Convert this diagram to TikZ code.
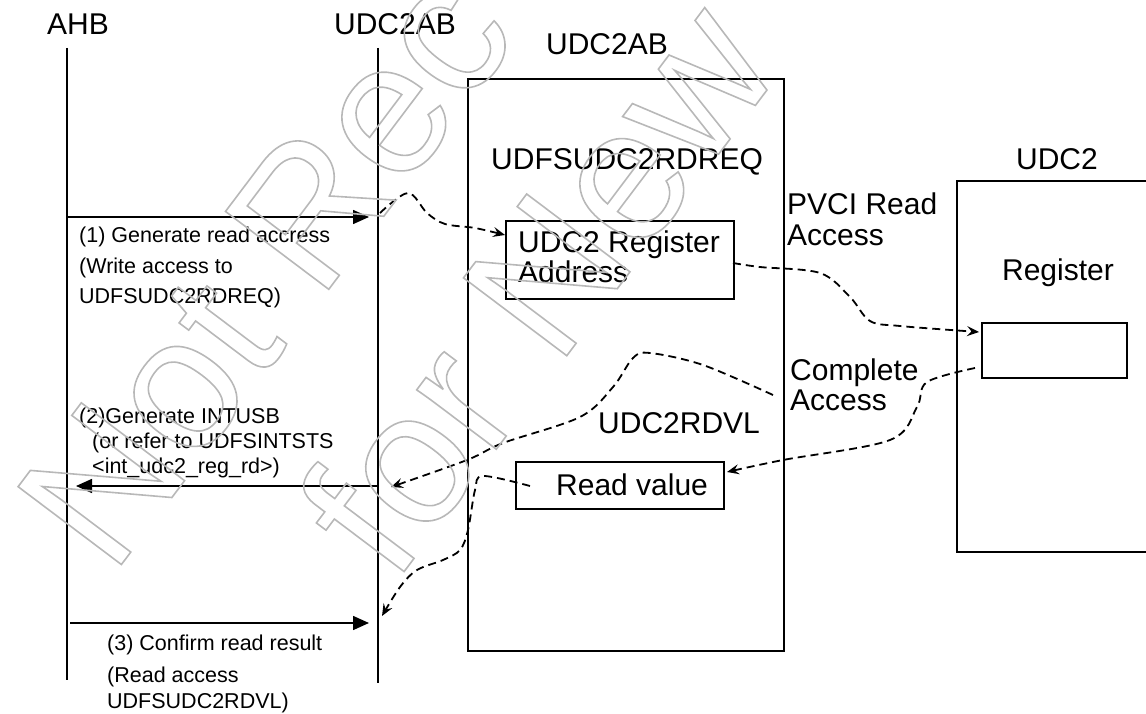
\documentclass[tikz,border=0pt]{standalone}
\usepackage{fontspec}
\setmainfont{Liberation Sans}
\usetikzlibrary{arrows.meta}
\newcommand{\wmark}[1]{\special{pdf:literal direct 1 Tr 1.6 w}#1\special{pdf:literal direct 0 Tr}}
\tikzset{
  lifeline/.style={line width=1.6pt},
  boxed/.style={draw, line width=1.6pt, inner sep=0pt},
  msg/.style={line width=1.6pt, -{Triangle[length=16pt,width=14pt]}},
  flow/.style={line width=1.8pt, dash pattern=on 8pt off 5pt, -{Stealth[length=12pt,width=10pt,inset=4.5pt]}},
  bigtxt/.style={font=\fontsize{30}{30}\selectfont, inner sep=0pt},
  smalltxt/.style={font=\fontsize{21.5}{25}\selectfont, inner sep=0pt},
  wm/.style={font=\fontsize{188}{188}\selectfont, inner sep=0pt, text=black!28, rotate=53, anchor=base west}
}
\begin{document}
\begin{tikzpicture}[x=1pt,y=-1pt]
\useasboundingbox (0,0) rectangle (1146,714);

% lifelines
\coordinate (ahbT) at (67,48);
\coordinate (ahbB) at (67,680);
\coordinate (abT) at (378,48);
\coordinate (abB) at (378,683);
\draw[lifeline] (ahbT) -- (ahbB);
\draw[lifeline] (abT) -- (abB);
\node[bigtxt, anchor=base] (ahbL) at (78,35) {AHB};
\node[bigtxt, anchor=base] (abL) at (395,35) {UDC2AB};

% UDC2AB block
\node[boxed, anchor=north west, minimum width=316pt, minimum height=572pt] (abBox) at (467,78) {};
\node[bigtxt, anchor=base] (abBoxL) at (607,55) {UDC2AB};
\node[bigtxt, anchor=base west] (reqL) at (491,170) {UDFSUDC2RDREQ};
\node[boxed, anchor=north west, minimum width=228pt, minimum height=78pt] (regaddr) at (505,220) {};
\node[bigtxt, anchor=base west] (ra1) at (518,252) {UDC2 Register};
\node[bigtxt, anchor=base west] (ra2) at (518,282) {Address};
\node[bigtxt, anchor=base west] (rdvlL) at (598,433) {UDC2RDVL};
\node[boxed, anchor=north west, minimum width=208pt, minimum height=47pt] (rval) at (515,461) {};
\node[bigtxt, anchor=base west] (rvalT) at (556,495) {Read value};

% middle labels
\node[bigtxt, anchor=base west] (pv1) at (787,215) {PVCI Read};
\node[bigtxt, anchor=base west] (pv2) at (787,245) {Access};
\node[bigtxt, anchor=base west] (ca1) at (790,380) {Complete};
\node[bigtxt, anchor=base west] (ca2) at (790,410) {Access};

% UDC2 block
\node[boxed, anchor=north west, minimum width=220pt, minimum height=371pt] (udc2) at (956,180) {};
\node[bigtxt, anchor=base] (udc2L) at (1057,170) {UDC2};
\node[bigtxt, anchor=base] (regL) at (1058,280) {Register};
\node[boxed, anchor=north west, minimum width=145pt, minimum height=55pt] (reg) at (981,322) {};

% messages
\coordinate (m1s) at (67,217);
\coordinate (m1e) at (369,217);
\draw[msg] (m1s) -- (m1e);
\node[smalltxt, anchor=base west] (t1a) at (79,243) {(1) Generate read accress};
\node[smalltxt, anchor=base west] (t1b) at (79,273) {(Write access to};
\node[smalltxt, anchor=base west] (t1c) at (79,303) {UDFSUDC2RDREQ)};

\coordinate (m2s) at (378,486);
\coordinate (m2e) at (76,486);
\draw[msg] (m2s) -- (m2e);
\node[smalltxt, anchor=base west] (t2a) at (79,423) {(2)Generate INTUSB};
\node[smalltxt, anchor=base west] (t2b) at (92,448) {(or refer to UDFSINTSTS};
\node[smalltxt, anchor=base west] (t2c) at (92,473) {<int\_udc2\_reg\_rd>)};

\coordinate (m3s) at (70,623);
\coordinate (m3e) at (369,623);
\draw[msg] (m3s) -- (m3e);
\node[smalltxt, anchor=base west] (t3a) at (107,650) {(3) Confirm read result};
\node[smalltxt, anchor=base west] (t3b) at (107,682) {(Read access};
\node[smalltxt, anchor=base west] (t3c) at (107,708) {UDFSUDC2RDVL)};

% dashed flows
\coordinate (f1s) at (380,213);
\coordinate (f1e) at (505,235);
\draw[flow] plot[smooth, tension=0.55] coordinates {(f1s) (408,193) (427,213) (445,224) (475,228) (f1e)};

\coordinate (f2s) at (733,263);
\coordinate (f2e) at (979,332);
\draw[flow] plot[smooth, tension=0.55] coordinates {(f2s) (760,267) (820,273) (850,297) (870,321) (900,326) (f2e)};

\coordinate (f3s) at (975,368);
\coordinate (f3e) at (727,472);
\draw[flow] plot[smooth, tension=0.55] coordinates {(f3s) (927,382) (917,407) (890,440) (783,460) (f3e)};

\coordinate (f4s) at (773,395);
\coordinate (f4e) at (391,487);
\draw[flow] plot[smooth, tension=0.55] coordinates {(f4s) (703,365) (650,353) (633,358) (613,387) (580,417) (503,443) (467,460) (f4e)};

\coordinate (f5s) at (530,486);
\coordinate (f5e) at (382,616);
\draw[flow] plot[smooth, tension=0.55] coordinates {(f5s) (483,476) (475,490) (468,530) (460,550) (443,560) (417,570) (400,587) (f5e)};

% watermark
\node[wm] (wm1) at (112,577) {\wmark{Not Rec}};
\node[wm] (wm2) at (394,585) {\wmark{for New}};
\end{tikzpicture}
\end{document}
